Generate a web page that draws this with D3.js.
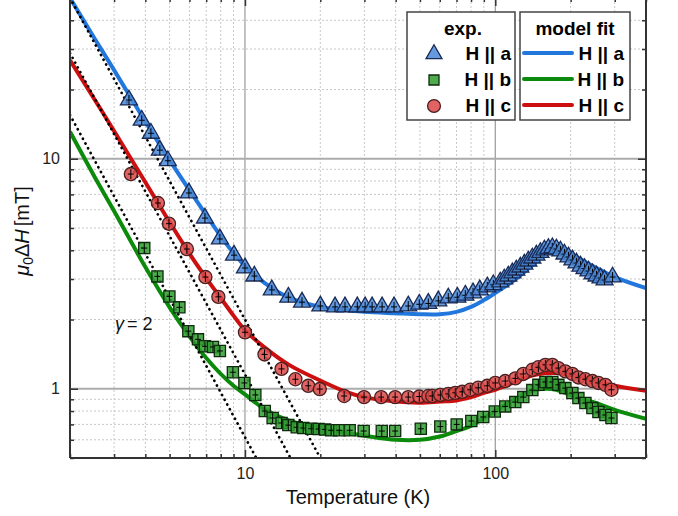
<!DOCTYPE html>
<html>
<head>
<meta charset="utf-8">
<script src="https://cdnjs.cloudflare.com/ajax/libs/d3/7.8.5/d3.min.js"></script>
<style>
  body { margin: 0; background: #fff; }
  svg { display: block; font-family: "Liberation Sans", Arial, sans-serif; }
</style>
</head>
<body>
<div id="graph-container"></div>
<script>
// exp. data, H || a (triangles)
var tempA = [3.44, 3.87, 4.21, 4.57, 4.92, 5.97, 6.92, 7.94, 9.04, 10.0, 10.9, 12.8, 14.9, 16.9,
  20.0, 22.9, 25.1, 28.1, 30.2, 32.2, 35.3, 39.4, 44.9, 49.7, 54.0, 59.2, 64.9, 70.5, 75.9, 81.5,
  86.7, 92.9, 98.2, 104.7, 108.6, 112.7, 117.0, 121.3, 125.9, 130.6, 135.5, 140.6, 145.9, 151.4,
  157.1, 163.0, 169.1, 175.5, 182.1, 188.9, 196.0, 203.4, 211.0, 219.0, 227.2, 235.7, 244.6,
  253.8, 263.3, 273.2, 294.1];
var widthA = [18.0, 14.7, 12.9, 10.9, 9.8, 7.1, 5.52, 4.48, 3.81, 3.35, 3.09, 2.69, 2.50, 2.38,
  2.29, 2.27, 2.27, 2.27, 2.27, 2.27, 2.27, 2.27, 2.29, 2.33, 2.35, 2.41, 2.48, 2.50, 2.55, 2.61,
  2.69, 2.77, 2.83, 2.91, 3.00, 3.09, 3.19, 3.28, 3.38, 3.48, 3.59, 3.70, 3.81, 3.91,
  4.01, 4.07, 4.10, 4.05, 3.97, 3.85, 3.74, 3.63, 3.52, 3.41, 3.33, 3.25, 3.16,
  3.09, 3.03, 2.97, 3.06];

// exp. data, H || b (squares)
var tempB = [3.96, 4.47, 4.99, 5.47, 5.94, 6.49, 6.92, 7.45, 7.94, 8.95, 9.95, 11.0, 12.0, 12.9,
  14.0, 14.9, 16.1, 17.1, 18.4, 19.7, 20.9, 22.1, 23.8, 26.2, 29.8, 35.2, 39.8, 50.4, 60.3, 70.1,
  80.2, 89.5, 99.5, 109.6, 120.2, 129.4, 140.6, 148.6, 158.5, 169.0, 178.6, 190.5, 203.2, 214.8,
  229.1, 244.3, 258.2, 275.4, 291.1];
var widthB = [4.09, 3.08, 2.52, 2.26, 1.78, 1.64, 1.53, 1.52, 1.46, 1.18, 1.06, 0.94, 0.80, 0.746,
  0.71, 0.695, 0.68, 0.675, 0.67, 0.668, 0.665, 0.66, 0.66, 0.66, 0.655, 0.655, 0.655, 0.67, 0.685, 0.70,
  0.724, 0.754, 0.796, 0.838, 0.875, 0.92, 0.987, 1.04, 1.07, 1.07, 1.04, 1.007, 0.958, 0.911,
  0.867, 0.824, 0.792, 0.769, 0.746];

// exp. data, H || c (circles)
var tempC = [3.50, 4.49, 4.97, 5.86, 6.95, 7.83, 10.0, 11.97, 14.0, 15.9, 17.9, 19.9, 24.9, 29.9,
  35.0, 39.8, 44.9, 49.7, 54.0, 56.0, 60.3, 64.9, 69.2, 73.8, 79.4, 85.5, 92.9, 100.0, 109.6,
  120.2, 129.4, 140.6, 148.6, 158.5, 169.0, 178.6, 190.5, 203.2, 214.8, 229.1, 244.3, 258.2,
  275.4, 291.1];
var widthC = [8.58, 6.42, 5.22, 4.05, 3.06, 2.51, 1.76, 1.41, 1.22, 1.10, 1.03, 0.997, 0.93, 0.92,
  0.92, 0.92, 0.92, 0.925, 0.93, 0.93, 0.94, 0.95, 0.96, 0.97, 0.99, 1.01, 1.03, 1.06, 1.08,
  1.11, 1.16, 1.21, 1.24, 1.27, 1.27, 1.23, 1.19, 1.16, 1.12, 1.10, 1.08, 1.06,
  1.04, 0.99];

// model fit curves
var fitTemp = [2, 2.5, 3, 4, 5, 6, 7, 8, 9, 10, 12, 15, 20, 25, 30, 40, 50, 60, 70, 80, 90, 100,
  120, 140, 160, 175, 200, 250, 300, 400];
var fitA = [50, 33.5, 24.3, 14.5, 9.87, 7.3, 5.69, 4.61, 3.89, 3.42, 2.88, 2.49, 2.27, 2.2, 2.16,
  2.13, 2.11, 2.11, 2.16, 2.27, 2.43, 2.61, 2.98, 3.43, 3.9, 4.05, 3.85, 3.38, 3.06, 2.74];
var fitB = [13.1, 8.4, 5.93, 3.38, 2.26, 1.69, 1.36, 1.16, 1.03, 0.945, 0.815, 0.727, 0.677, 0.645, 0.625,
  0.60, 0.60, 0.62, 0.655, 0.69, 0.746, 0.80, 0.90, 0.98, 1.0, 0.99, 0.94, 0.87, 0.81, 0.74];
var fitC = [26.8, 18.2, 13.2, 7.9, 5.3, 3.87, 3.03, 2.48, 2.08, 1.80, 1.51, 1.27, 1.085, 0.975, 0.92,
  0.88, 0.87, 0.88, 0.89, 0.92, 0.96, 0.99, 1.07, 1.14, 1.17, 1.17, 1.15, 1.08, 1.03, 0.98];

// gamma = 2 guide lines (end points)
var guideTempA = [2, 20], guideA = [50, 0.5];
var guideTempB = [2, 15.2], guideB = [28.8, 0.5];
var guideTempC = [2, 11.1], guideC = [15.5, 0.5];

var xMajor = [10, 100];
var xMinor = [2, 3, 4, 5, 6, 7, 8, 9, 20, 30, 40, 50, 60, 70, 80, 90, 200, 300, 400];
var yMajor = [1, 10];
var yMinor = [0.5, 0.6, 0.7, 0.8, 0.9, 2, 3, 4, 5, 6, 7, 8, 9, 20, 30, 40, 50];

var seriesNames = ["H || a", "H || b", "H || c"];

var svg = d3.select("#graph-container")
  .append("svg")
    .attr("width", 678)
    .attr("height", 516);

var pLeft = 70, pRight = 646, pTop = -2, pBottom = 458;

var x = d3.scaleLog().domain([2, 400]).range([pLeft, pRight]);
var y = d3.scaleLog().domain([0.5, 50]).range([pBottom, pTop]);

svg.append("defs").append("clipPath").attr("id", "plotclip")
  .append("rect")
    .attr("x", pLeft).attr("y", pTop)
    .attr("width", pRight - pLeft).attr("height", pBottom - pTop);

// minor grid
var grid = svg.append("g");
grid.selectAll(".gxm").data(xMinor).enter().append("line")
  .attr("x1", function(d) { return x(d); }).attr("x2", function(d) { return x(d); })
  .attr("y1", pTop).attr("y2", pBottom)
  .attr("stroke", "#c8c8c8").attr("stroke-width", 1).attr("stroke-dasharray", "2,2");
grid.selectAll(".gym").data(yMinor).enter().append("line")
  .attr("y1", function(d) { return y(d); }).attr("y2", function(d) { return y(d); })
  .attr("x1", pLeft).attr("x2", pRight)
  .attr("stroke", "#c8c8c8").attr("stroke-width", 1).attr("stroke-dasharray", "2,2");
// major grid
grid.selectAll(".gxM").data(xMajor).enter().append("line")
  .attr("x1", function(d) { return x(d); }).attr("x2", function(d) { return x(d); })
  .attr("y1", pTop).attr("y2", pBottom)
  .attr("stroke", "#9a9a9a").attr("stroke-width", 1.2);
grid.selectAll(".gyM").data(yMajor).enter().append("line")
  .attr("y1", function(d) { return y(d); }).attr("y2", function(d) { return y(d); })
  .attr("x1", pLeft).attr("x2", pRight)
  .attr("stroke", "#acacac").attr("stroke-width", 2);

var plot = svg.append("g").attr("clip-path", "url(#plotclip)");

var line = d3.line()
  .x(function(d) { return x(d[0]); })
  .y(function(d) { return y(d[1]); })
  .curve(d3.curveCatmullRom.alpha(0.5));

var fits = [
  {vals: fitA, color: "#2277dd"},
  {vals: fitB, color: "#0b8a0b"},
  {vals: fitC, color: "#cc1010"}
];
fits.forEach(function(f) {
  plot.append("path")
    .datum(d3.zip(fitTemp, f.vals))
    .attr("fill", "none")
    .attr("stroke", f.color)
    .attr("stroke-width", 4)
    .attr("d", line);
});

// dotted gamma = 2 lines
[[guideTempA, guideA], [guideTempB, guideB], [guideTempC, guideC]].forEach(function(g) {
  plot.append("path")
    .datum(d3.zip(g[0], g[1]))
    .attr("fill", "none")
    .attr("stroke", "#000")
    .attr("stroke-width", 2.7)
    .attr("stroke-linecap", "round")
    .attr("stroke-dasharray", "0.1,5.3")
    .attr("d", d3.line().x(function(d) { return x(d[0]); }).y(function(d) { return y(d[1]); }));
});

// markers
var triangle = d3.symbol().type(d3.symbolTriangle).size(125);
var square = d3.symbol().type(d3.symbolSquare).size(125);
var circle = d3.symbol().type(d3.symbolCircle).size(135);

function drawPoints(temps, vals, sym, fill, stroke) {
  var g = plot.append("g");
  var pts = g.selectAll("g").data(d3.zip(temps, vals)).enter().append("g")
    .attr("transform", function(d) { return "translate(" + x(d[0]) + "," + y(d[1]) + ")"; });
  pts.append("path")
    .attr("d", sym)
    .attr("fill", fill)
    .attr("fill-opacity", 0.85)
    .attr("stroke", stroke)
    .attr("stroke-width", 1.3);
  // error bars
  pts.append("line").attr("x1", 0).attr("x2", 0).attr("y1", -5).attr("y2", 5)
    .attr("stroke", "#000").attr("stroke-width", 1);
  pts.append("line").attr("x1", -3).attr("x2", 3).attr("y1", 0).attr("y2", 0)
    .attr("stroke", "#000").attr("stroke-width", 1);
}
drawPoints(tempA, widthA, triangle, "#4a8ad8", "#1a2a55");
drawPoints(tempC, widthC, circle, "#dd4848", "#4a2020");
drawPoints(tempB, widthB, square, "#2f9e2f", "#0f2a0f");

// frame
svg.append("g").selectAll("line")
  .data([[pLeft, pTop, pLeft, pBottom], [pLeft, pBottom, pRight, pBottom], [pRight, pTop, pRight, pBottom], [pLeft, pTop, pRight, pTop]])
  .enter().append("line")
    .attr("x1", function(d) { return d[0]; }).attr("y1", function(d) { return d[1]; })
    .attr("x2", function(d) { return d[2]; }).attr("y2", function(d) { return d[3]; })
    .attr("stroke", "#333").attr("stroke-width", 2);

// ticks (inward)
function ticks(axisFn, scale, vals, size, transform, labels) {
  var ax = axisFn(scale).tickValues(vals).tickSize(-size).tickPadding(10);
  if (!labels) ax.tickFormat("");
  else ax.tickFormat(d3.format("d"));
  var g = svg.append("g").attr("transform", transform).call(ax);
  g.select(".domain").remove();
  g.selectAll(".tick line").attr("stroke", "#333").attr("stroke-width", 1.5);
  g.selectAll("text").attr("font-size", 16).attr("fill", "#222")
    .style("font-family", "'Liberation Sans', Arial, sans-serif");
  return g;
}
ticks(d3.axisBottom, x, xMajor, 8, "translate(0," + pBottom + ")", true);
ticks(d3.axisBottom, x, xMinor, 4, "translate(0," + pBottom + ")", false);
ticks(d3.axisTop, x, xMajor, 8, "translate(0," + pTop + ")", false);
ticks(d3.axisTop, x, xMinor, 4, "translate(0," + pTop + ")", false);
ticks(d3.axisLeft, y, yMajor, 8, "translate(" + pLeft + ",0)", true);
ticks(d3.axisLeft, y, yMinor, 4, "translate(" + pLeft + ",0)", false);
ticks(d3.axisRight, y, yMajor, 8, "translate(" + pRight + ",0)", false);
ticks(d3.axisRight, y, yMinor, 4, "translate(" + pRight + ",0)", false);

// axis titles
svg.append("text")
  .attr("x", (pLeft + pRight) / 2).attr("y", 504)
  .attr("text-anchor", "middle")
  .attr("font-size", 20).attr("fill", "#111")
  .text("Temperature (K)");

var yl = svg.append("text")
  .attr("transform", "translate(29," + 231 + ") rotate(-90)")
  .attr("text-anchor", "middle")
  .attr("font-size", 20).attr("fill", "#111");
yl.append("tspan").attr("font-style", "italic").text("μ");
yl.append("tspan").attr("font-size", 14).attr("dy", 4).text("0");
yl.append("tspan").attr("dy", -4).text("Δ");
yl.append("tspan").attr("font-style", "italic").text("H");
yl.append("tspan").attr("dx", 3).text("[mT]");

// gamma label
var gl = svg.append("text").attr("x", 115).attr("y", 330)
  .attr("font-size", 18).attr("fill", "#111");
gl.append("tspan").attr("font-style", "italic").text("γ");
gl.append("tspan").attr("dx", 3).text("= 2");

// legends
var legRows = [60, 86, 112];
var leg1 = svg.append("g");
leg1.append("rect").attr("x", 407).attr("y", 12).attr("width", 108).attr("height", 108)
  .attr("fill", "#fff").attr("stroke", "#444").attr("stroke-width", 1.5);
leg1.append("text").attr("x", 463).attr("y", 35).attr("text-anchor", "middle")
  .attr("font-size", 19).attr("font-weight", "bold").text("exp.");
var legSyms = [
  {sym: d3.symbol().type(d3.symbolTriangle).size(110), fill: "#4a8ad8", stroke: "#1a2a55"},
  {sym: d3.symbol().type(d3.symbolSquare).size(100), fill: "#2f9e2f", stroke: "#0f2a0f"},
  {sym: d3.symbol().type(d3.symbolCircle).size(130), fill: "#dd4848", stroke: "#4a2020"}
];
legSyms.forEach(function(s, i) {
  leg1.append("path").attr("d", s.sym)
    .attr("transform", "translate(434," + (legRows[i] - 6) + ")")
    .attr("fill", s.fill).attr("fill-opacity", 0.85)
    .attr("stroke", s.stroke).attr("stroke-width", 1.3);
  leg1.append("text").attr("x", 511).attr("y", legRows[i]).attr("text-anchor", "end")
    .attr("font-size", 19).attr("font-weight", "bold").text(seriesNames[i]);
});

var leg2 = svg.append("g");
leg2.append("rect").attr("x", 520).attr("y", 12).attr("width", 110).attr("height", 108)
  .attr("fill", "#fff").attr("stroke", "#444").attr("stroke-width", 1.5);
leg2.append("text").attr("x", 575).attr("y", 35).attr("text-anchor", "middle")
  .attr("font-size", 19).attr("font-weight", "bold").text("model fit");
var legLines = ["#2277dd", "#0b8a0b", "#cc1010"];
legLines.forEach(function(c, i) {
  leg2.append("line").attr("x1", 524).attr("x2", 572)
    .attr("y1", legRows[i] - 7).attr("y2", legRows[i] - 7)
    .attr("stroke", c).attr("stroke-width", 4).attr("stroke-linecap", "round");
  leg2.append("text").attr("x", 624).attr("y", legRows[i]).attr("text-anchor", "end")
    .attr("font-size", 19).attr("font-weight", "bold").text(seriesNames[i]);
});
</script>
</body>
</html>
